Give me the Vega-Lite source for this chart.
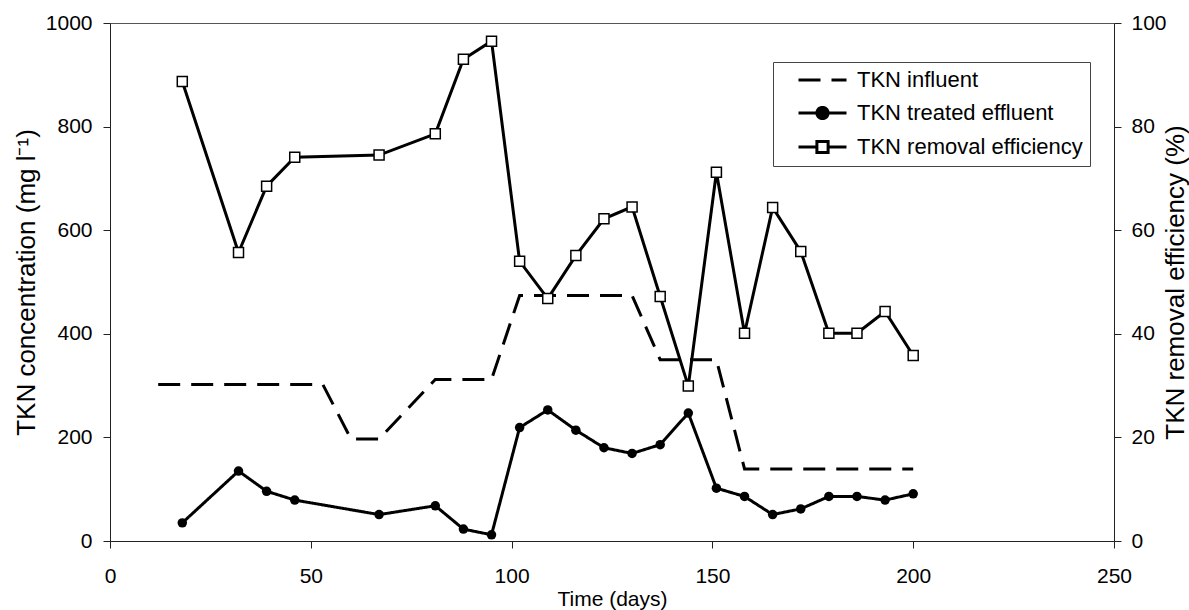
{
  "$schema": "https://vega.github.io/schema/vega-lite/v6.json",
  "width": 1004,
  "height": 518,
  "autosize": {"type": "none"},
  "padding": {"left": 110, "top": 23, "right": 75, "bottom": 69},
  "config": {
    "view": {"stroke": "#555", "strokeWidth": 1},
    "font": "Liberation Sans",
    "axis": {
      "grid": false,
      "domainColor": "#222",
      "tickColor": "#222",
      "tickSize": 7,
      "labelColor": "black",
      "titleColor": "black",
      "labelFont": "Liberation Sans",
      "titleFont": "Liberation Sans",
      "labelFontSize": 21,
      "titleFontSize": 21,
      "titleFontWeight": "normal",
      "labelFlush": false
    }
  },
  "data": {
    "values": [
      {"series": "TKN influent", "day": 12, "value": 302},
      {"series": "TKN influent", "day": 53, "value": 302},
      {"series": "TKN influent", "day": 60, "value": 197},
      {"series": "TKN influent", "day": 67, "value": 197},
      {"series": "TKN influent", "day": 81, "value": 312},
      {"series": "TKN influent", "day": 95, "value": 312},
      {"series": "TKN influent", "day": 102, "value": 474},
      {"series": "TKN influent", "day": 130, "value": 474},
      {"series": "TKN influent", "day": 137, "value": 350},
      {"series": "TKN influent", "day": 151, "value": 350},
      {"series": "TKN influent", "day": 158, "value": 139},
      {"series": "TKN influent", "day": 200, "value": 139},
      {"series": "TKN treated effluent", "day": 18, "value": 35},
      {"series": "TKN treated effluent", "day": 32, "value": 135},
      {"series": "TKN treated effluent", "day": 39, "value": 96},
      {"series": "TKN treated effluent", "day": 46, "value": 79},
      {"series": "TKN treated effluent", "day": 67, "value": 51},
      {"series": "TKN treated effluent", "day": 81, "value": 68},
      {"series": "TKN treated effluent", "day": 88, "value": 23},
      {"series": "TKN treated effluent", "day": 95, "value": 12},
      {"series": "TKN treated effluent", "day": 102, "value": 219},
      {"series": "TKN treated effluent", "day": 109, "value": 253},
      {"series": "TKN treated effluent", "day": 116, "value": 214},
      {"series": "TKN treated effluent", "day": 123, "value": 180},
      {"series": "TKN treated effluent", "day": 130, "value": 169},
      {"series": "TKN treated effluent", "day": 137, "value": 186},
      {"series": "TKN treated effluent", "day": 144, "value": 247},
      {"series": "TKN treated effluent", "day": 151, "value": 102},
      {"series": "TKN treated effluent", "day": 158, "value": 86},
      {"series": "TKN treated effluent", "day": 165, "value": 51},
      {"series": "TKN treated effluent", "day": 172, "value": 62},
      {"series": "TKN treated effluent", "day": 179, "value": 86},
      {"series": "TKN treated effluent", "day": 186, "value": 86},
      {"series": "TKN treated effluent", "day": 193, "value": 79},
      {"series": "TKN treated effluent", "day": 200, "value": 91},
      {"series": "TKN removal efficiency", "day": 18, "value": 88.7},
      {"series": "TKN removal efficiency", "day": 32, "value": 55.7},
      {"series": "TKN removal efficiency", "day": 39, "value": 68.5},
      {"series": "TKN removal efficiency", "day": 46, "value": 74.1},
      {"series": "TKN removal efficiency", "day": 67, "value": 74.5},
      {"series": "TKN removal efficiency", "day": 81, "value": 78.6},
      {"series": "TKN removal efficiency", "day": 88, "value": 93.0},
      {"series": "TKN removal efficiency", "day": 95, "value": 96.5},
      {"series": "TKN removal efficiency", "day": 102, "value": 54.0},
      {"series": "TKN removal efficiency", "day": 109, "value": 46.8},
      {"series": "TKN removal efficiency", "day": 116, "value": 55.1},
      {"series": "TKN removal efficiency", "day": 123, "value": 62.2},
      {"series": "TKN removal efficiency", "day": 130, "value": 64.5},
      {"series": "TKN removal efficiency", "day": 137, "value": 47.2},
      {"series": "TKN removal efficiency", "day": 144, "value": 29.9},
      {"series": "TKN removal efficiency", "day": 151, "value": 71.2},
      {"series": "TKN removal efficiency", "day": 158, "value": 40.1},
      {"series": "TKN removal efficiency", "day": 165, "value": 64.4},
      {"series": "TKN removal efficiency", "day": 172, "value": 55.9},
      {"series": "TKN removal efficiency", "day": 179, "value": 40.1},
      {"series": "TKN removal efficiency", "day": 186, "value": 40.1},
      {"series": "TKN removal efficiency", "day": 193, "value": 44.3},
      {"series": "TKN removal efficiency", "day": 200, "value": 35.8}
    ]
  },
  "encoding": {
    "x": {
      "field": "day",
      "type": "quantitative",
      "scale": {"domain": [0, 250], "nice": false},
      "axis": {
        "title": "Time (days)",
        "values": [0, 50, 100, 150, 200, 250],
        "labelPadding": 17,
        "titlePadding": 2
      }
    }
  },
  "layer": [
    {
      "encoding": {
        "y": {
          "field": "value",
          "type": "quantitative",
          "scale": {"domain": [0, 1000], "nice": false},
          "axis": {
            "orient": "left",
            "title": "TKN concentration (mg l⁻¹)",
            "format": "d",
            "values": [0, 200, 400, 600, 800, 1000],
            "labelPadding": 11,
            "titlePadding": 6,
            "titleFontSize": 26
          }
        }
      },
      "layer": [
        {
          "transform": [{"filter": "datum.series !== 'TKN removal efficiency'"}],
          "mark": {"type": "line", "color": "black", "strokeWidth": 3, "strokeCap": "butt"},
          "encoding": {
            "strokeDash": {
              "field": "series",
              "type": "nominal",
              "scale": {
                "domain": ["TKN influent", "TKN treated effluent", "TKN removal efficiency"],
                "range": [[22, 11], [1, 0], [1, 0]]
              },
              "legend": {
                "title": null,
                "orient": "none",
                "legendX": 663,
                "legendY": 39,
                "padding": 7,
                "strokeColor": "#444",
                "fillColor": "white",
                "symbolSize": 256,
                "symbolStrokeWidth": 3,
                "symbolStrokeColor": "black",
                "symbolOpacity": 1,
                "symbolOffset": 31.5,
                "labelOffset": 23.5,
                "rowPadding": 10,
                "labelFont": "Liberation Sans",
                "labelFontSize": 22,
                "labelColor": "black",
                "labelLimit": 0,
                "labelExpr": "datum.label + '\u00a0\u00a0\u00a0\u00a0\u00a0\u00a0\u00a0\u00a0'"
              }
            }
          }
        },
        {
          "transform": [{"filter": "false"}],
          "mark": {"type": "point", "filled": true, "strokeWidth": 3, "opacity": 1},
          "encoding": {
            "shape": {
              "field": "series",
              "type": "nominal",
              "scale": {
                "domain": ["TKN influent", "TKN treated effluent", "TKN removal efficiency"],
                "range": [
                  "M-3,0H3",
                  "M-3,0H3M0.7,0A0.7,0.7 0 1,1 -0.7,0A0.7,0.7 0 1,1 0.7,0Z",
                  "M-3,0H-0.7M0.7,0H3M-0.7,-0.7H0.7V0.7H-0.7Z"
                ]
              },
              "legend": {"title": null}
            },
            "fill": {
              "field": "series",
              "type": "nominal",
              "scale": {
                "domain": ["TKN influent", "TKN treated effluent", "TKN removal efficiency"],
                "range": ["black", "black", "white"]
              },
              "legend": {"title": null}
            },
            "stroke": {
              "field": "series",
              "type": "nominal",
              "scale": {
                "domain": ["TKN influent", "TKN treated effluent", "TKN removal efficiency"],
                "range": ["black", "black", "black"]
              },
              "legend": {"title": null}
            }
          }
        },
        {
          "transform": [{"filter": "datum.series === 'TKN treated effluent'"}],
          "mark": {"type": "point", "shape": "circle", "filled": true, "color": "black", "size": 90, "opacity": 1}
        }
      ]
    },
    {
      "encoding": {
        "y": {
          "field": "value",
          "type": "quantitative",
          "scale": {"domain": [0, 100], "nice": false},
          "axis": {
            "orient": "right",
            "title": "TKN removal efficiency (%)",
            "values": [0, 20, 40, 60, 80, 100],
            "labelPadding": 10,
            "titlePadding": -4,
            "titleFontSize": 26,
            "titleAngle": 270,
            "titleBaseline": "top"
          }
        }
      },
      "transform": [{"filter": "datum.series === 'TKN removal efficiency'"}],
      "layer": [
        {
          "mark": {"type": "line", "color": "black", "strokeWidth": 3}
        },
        {
          "mark": {"type": "point", "shape": "square", "filled": true, "fill": "white", "stroke": "black", "strokeWidth": 1.5, "size": 100, "opacity": 1}
        }
      ]
    }
  ],
  "resolve": {"scale": {"y": "independent"}}
}
